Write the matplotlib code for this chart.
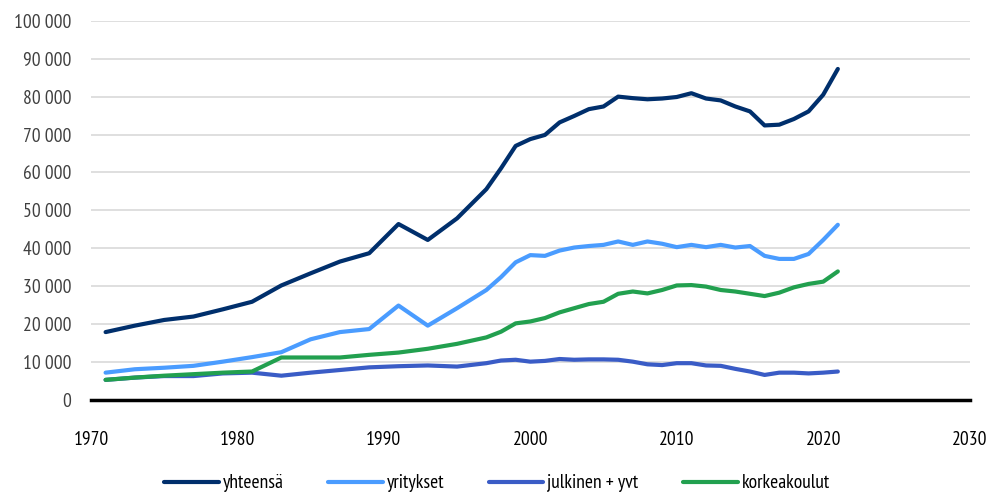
import matplotlib
matplotlib.use("Agg")
import matplotlib.pyplot as plt
from matplotlib.ticker import FuncFormatter, MultipleLocator

plt.rcParams['font.family'] = ['PT Sans Narrow', 'DejaVu Sans']

# vuodet: joka toinen vuosi 1997 asti, sen jälkeen vuosittain
vuodet = [1971, 1973, 1975, 1977, 1979, 1981, 1983, 1985, 1987, 1989, 1991, 1993, 1995, 1997,
          1998, 1999, 2000, 2001, 2002, 2003, 2004, 2005, 2006, 2007, 2008, 2009, 2010,
          2011, 2012, 2013, 2014, 2015, 2016, 2017, 2018, 2019, 2020, 2021]

yhteensa = [17900, 19600, 21100, 22000, 23900, 25900, 30200, 33400, 36500, 38700, 46400, 42200, 47900, 55600,
            61100, 67000, 68800, 69900, 73200, 74900, 76700, 77400, 80000, 79600, 79300, 79500, 79900,
            80900, 79500, 79000, 77400, 76100, 72400, 72600, 74100, 76100, 80500, 87300]

yritykset = [7200, 8100, 8500, 9000, 10100, 11300, 12600, 16000, 17900, 18700, 24900, 19600, 24200, 29000,
             32400, 36300, 38200, 38000, 39400, 40200, 40600, 40900, 41800, 40900, 41800, 41200, 40300,
             40900, 40300, 40900, 40200, 40600, 38000, 37200, 37200, 38500, 42200, 46200]

julkinen = [5300, 5900, 6300, 6300, 7000, 7200, 6400, 7200, 7900, 8600, 8900, 9100, 8800, 9700,
            10400, 10600, 10100, 10300, 10800, 10600, 10700, 10700, 10600, 10100, 9400, 9200, 9700,
            9700, 9100, 9000, 8200, 7500, 6600, 7200, 7200, 7000, 7200, 7500]

korkeakoulut = [5300, 5900, 6400, 6800, 7200, 7500, 11200, 11200, 11200, 11900, 12500, 13500, 14800, 16500,
                18000, 20200, 20700, 21600, 23100, 24200, 25300, 25900, 28000, 28600, 28100, 29000, 30200,
                30300, 29900, 29000, 28600, 28000, 27400, 28300, 29700, 30600, 31200, 33900]

sarjat = [
    ("yhteensä", yhteensa, "#002f6c"),
    ("yritykset", yritykset, "#4a9cff"),
    ("julkinen + yvt", julkinen, "#3a5cc6"),
    ("korkeakoulut", korkeakoulut, "#22a04f"),
]

fig = plt.figure(figsize=(9.94, 4.95), dpi=100)
ax = fig.add_axes([0.0915, 0.192, 0.884, 0.766])

for nimi, arvot, vari in sarjat:
    ax.plot(vuodet, arvot, color=vari, lw=3, label=nimi, solid_capstyle="round", zorder=3)

ax.set_xlim(1970, 2030)
ax.set_ylim(0, 100000)
ax.xaxis.set_major_locator(MultipleLocator(10))
ax.yaxis.set_major_locator(MultipleLocator(10000))
ax.yaxis.set_major_formatter(FuncFormatter(lambda v, p: f"{int(v):,}".replace(",", " ")))

ax.grid(axis="y", color="#d9d9d9", lw=1.2, zorder=0)
for s in ["top", "right", "left"]:
    ax.spines[s].set_visible(False)
ax.spines["bottom"].set_color("black")
ax.spines["bottom"].set_linewidth(2.5)
ax.spines["bottom"].set_zorder(4)
ax.tick_params(axis="both", length=0, labelsize=14, colors="#404040")
ax.tick_params(axis="x", pad=22, colors="black")
ax.tick_params(axis="y", pad=14)

fig.legend(loc="lower center", bbox_to_anchor=(0.5, -0.03), ncol=4, frameon=False,
           fontsize=14, handlelength=2.8, handletextpad=0.2, columnspacing=2.3)

fig.savefig("out.png", dpi=100)
